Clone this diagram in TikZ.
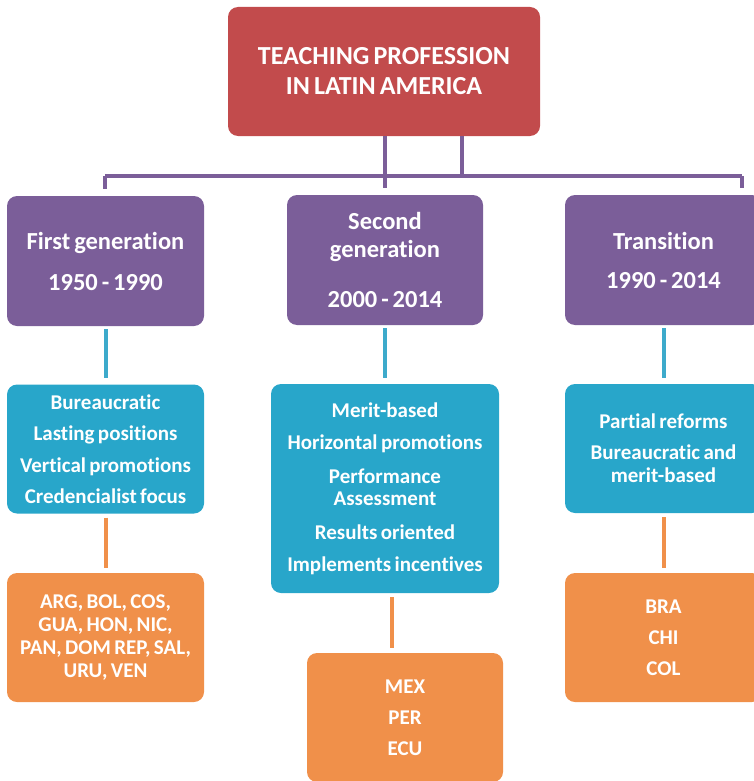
\documentclass[tikz,border=0pt]{standalone}
\usepackage{fontspec}
\setmainfont{Carlito}[RawFeature=-liga]
\begin{document}
\definecolor{titlered}{HTML}{C24B4C}
\definecolor{genpurple}{HTML}{7B5E99}
\definecolor{traitcyan}{HTML}{28A6CA}
\definecolor{linkcyan}{HTML}{3DAACB}
\definecolor{landorange}{HTML}{F0904A}
\begin{tikzpicture}[x=1pt,y=-1pt,
  card/.style={rounded corners=10pt, inner sep=0pt, align=center, text=white,
    font=\bfseries, execute at begin node={\spaceskip=0.16em\relax}},
  titlecard/.style={card, fill=titlered, minimum width=312pt, minimum height=129pt,
    text width=300pt, font=\bfseries\fontsize{26}{30}\selectfont},
  gencard/.style={card, fill=genpurple, minimum width=197pt, minimum height=130pt,
    text width=190pt},
  traitcard/.style={card, fill=traitcyan, minimum height=129pt},
  landcard/.style={card, fill=landorange, minimum width=197pt, minimum height=129pt,
    text width=190pt},
  pline/.style={draw=genpurple, line width=3.2pt},
  cline/.style={draw=linkcyan, line width=4pt, shorten <=3pt, shorten >=6pt},
  oline/.style={draw=landorange, line width=4pt, shorten <=4pt, shorten >=5pt}]
\useasboundingbox (0,0) rectangle (753,781);

% headline
\node[titlecard] (title) at (384,71.5) {TEACHING PROFESSION\\IN LATIN AMERICA};

% generation cards
\node[gencard, font=\bfseries\fontsize{24.5}{41}\selectfont] (p1) at (105.5,261)
  {First generation\\1950 - 1990};
\node[gencard, minimum width=196pt, font=\bfseries\fontsize{24.5}{28}\selectfont] (p2) at (385,260)
  {Second\\generation\\[22pt]2000 - 2014};
\node[gencard, font=\bfseries\fontsize{24.5}{39}\selectfont] (p3) at (663.5,260)
  {Transition\\1990 - 2014};

% characteristics
\node[traitcard, minimum width=197pt, text width=194pt, font=\bfseries\fontsize{21}{31.5}\selectfont] (c1) at (105.5,449)
  {Bureaucratic\\Lasting positions\\Vertical promotions\\Credencialist focus};
\node[traitcard, minimum width=228pt, minimum height=209pt, text width=224pt, font=\bfseries\fontsize{21}{22}\selectfont] (c2) at (385,488.5)
  {Merit-based\\[10pt]Horizontal promotions\\[12pt]Performance\\Assessment\\[12pt]Results oriented\\[10pt]Implements incentives};
\node[traitcard, minimum width=197pt, text width=190pt, font=\bfseries\fontsize{21}{23}\selectfont] (c3) at (663.5,448.5)
  {Partial reforms\\[8pt]Bureaucratic and\\merit-based};

% countries
\node[landcard, font=\bfseries\fontsize{21}{23}\selectfont] (o1) at (105.5,637.5)
  {ARG, BOL, COS,\\GUA, HON, NIC,\\PAN, DOM REP, SAL,\\URU, VEN};
\node[landcard, minimum width=196pt, font=\bfseries\fontsize{21}{31}\selectfont] (o2) at (405,717.5)
  {MEX\\PER\\ECU};
\node[landcard, font=\bfseries\fontsize{21}{31}\selectfont] (o3) at (663.5,637.5)
  {BRA\\CHI\\COL};

% tree connectors under the headline
\coordinate (jt) at (462,176);
\coordinate (bl) at (105,176);
\coordinate (br) at (742,176);
\draw[pline] (bl) -- (br);
\draw[pline, shorten >=7pt] (title.south -| p2.north) -- (p2.north);
\draw[pline] (title.south -| jt) -- (jt);
\draw[pline, shorten >=7pt] (bl) -- (bl |- p1.north);
\draw[pline, shorten >=7pt] (br) -- (br |- p3.north);

% generation -> characteristics
\draw[cline] (p1.south) -- (p1.south |- c1.north);
\draw[cline] (p2.south) -- (p2.south |- c2.north);
\draw[cline] (p3.south) -- (p3.south |- c3.north);

% characteristics -> countries
\coordinate (k2) at (392,0);
\draw[oline] (c1.south) -- (c1.south |- o1.north);
\draw[oline] (c2.south -| k2) -- (o2.north -| k2);
\draw[oline] (c3.south) -- (c3.south |- o3.north);
\end{tikzpicture}
\end{document}
